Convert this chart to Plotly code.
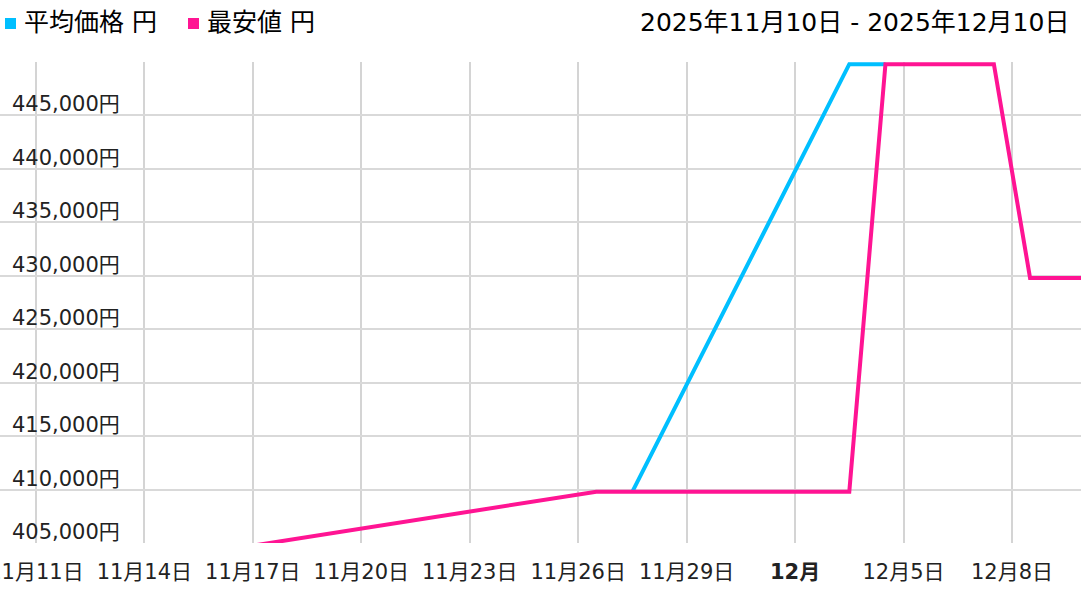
import plotly.graph_objects as go

# ---- data ----
min_dates = ["2025-11-10 12:00", "2025-11-26 12:00", "2025-12-03 12:00",
             "2025-12-04 12:00", "2025-12-07 12:00", "2025-12-08 12:00",
             "2025-12-09 12:00", "2025-12-10 12:00"]
min_prices = [401300, 409800, 409800, 449800, 449800, 429800, 429800, 429800]

avg_dates = ["2025-11-27 12:00", "2025-12-03 12:00", "2025-12-04 12:00"]
avg_prices = [409800, 449800, 449800]

x_tick_vals = ["2025-11-11", "2025-11-14", "2025-11-17", "2025-11-20",
               "2025-11-23", "2025-11-26", "2025-11-29", "2025-12-02",
               "2025-12-05", "2025-12-08"]
x_tick_text = ["11月11日", "11月14日", "11月17日", "11月20日", "11月23日",
               "11月26日", "11月29日", "<b>12月</b>", "12月5日", "12月8日"]

y_tick_vals = [405000, 410000, 415000, 420000, 425000, 430000, 435000,
               440000, 445000, 450000]
y_tick_text = ["405,000円", "410,000円", "415,000円", "420,000円", "425,000円",
               "430,000円", "435,000円", "440,000円", "445,000円", "450,000円"]

series_names = ["平均価格 円", "最安値 円"]
series_colors = ["#00BFFF", "#FF1493"]
title_text = "2025年11月10日 - 2025年12月10日"

FONT = "DejaVu Sans, Noto Sans CJK JP, sans-serif"

W, H = 1081, 597
L, R, T, B = 0, 0, 62, 54
PW, PH = W - L - R, H - T - B
Y_RANGE = [405000, 450000]


def px_x(px):
    return (px - L) / PW


def px_y(py):
    return (H - B - py) / PH


fig = go.Figure()
fig.add_trace(go.Scatter(x=avg_dates, y=avg_prices, mode="lines",
                         name=series_names[0],
                         line=dict(color=series_colors[0], width=4),
                         showlegend=False, hoverinfo="skip"))
fig.add_trace(go.Scatter(x=min_dates, y=min_prices, mode="lines",
                         name=series_names[1],
                         line=dict(color=series_colors[1], width=4),
                         showlegend=False, hoverinfo="skip"))

# legend squares + texts
legend_items = [(5, 22), (188, 205)]
for (sq_x, tx_x), name, color in zip(legend_items, series_names, series_colors):
    fig.add_shape(type="rect", xref="paper", yref="paper",
                  x0=px_x(sq_x), x1=px_x(sq_x + 11),
                  y0=px_y(29), y1=px_y(18),
                  fillcolor=color, line=dict(width=0))
    fig.add_annotation(text=name, xref="paper", yref="paper",
                       x=px_x(tx_x), y=px_y(23), xanchor="left", yanchor="middle",
                       showarrow=False, font=dict(family=FONT, size=25, color="#000"))

fig.add_annotation(text=title_text, xref="paper", yref="paper",
                   x=px_x(638), y=px_y(23), xanchor="left", yanchor="middle",
                   showarrow=False, font=dict(family=FONT, size=25, color="#000"))

# y-axis labels drawn inside the plot, just above their grid lines
for v, t in zip(y_tick_vals, y_tick_text):
    if Y_RANGE[0] <= v < Y_RANGE[1]:
        fig.add_annotation(text=t, xref="paper", yref="y", x=px_x(10), y=v,
                           xanchor="left", yanchor="middle", yshift=11,
                           showarrow=False,
                           font=dict(family=FONT, size=21, color="#222"))

fig.update_layout(
    width=W, height=H,
    margin=dict(l=L, r=R, t=T, b=B, pad=0),
    paper_bgcolor="white", plot_bgcolor="white",
    showlegend=False,
    font=dict(family=FONT, size=21, color="#222"),
    xaxis=dict(
        type="date",
        range=["2025-11-10 00:09", "2025-12-09 21:50"],
        tickmode="array", tickvals=x_tick_vals, ticktext=x_tick_text,
        showgrid=True, gridcolor="#d4d4d4", gridwidth=1.5,
        zeroline=False, showline=False, ticks="",
        tickfont=dict(family=FONT, size=21, color="#222"),
        ticklabelstandoff=14, ticklabeloverflow="allow",
        automargin=False, fixedrange=True,
    ),
    yaxis=dict(
        range=Y_RANGE,
        tickmode="array", tickvals=y_tick_vals,
        showticklabels=False,
        showgrid=True, gridcolor="#d9d9d9", gridwidth=1.5,
        zeroline=False, showline=False, ticks="",
        automargin=False, fixedrange=True,
    ),
)

fig.write_html("out.html", config={"displayModeBar": False},
               post_script="document.body.style.margin='0';")
